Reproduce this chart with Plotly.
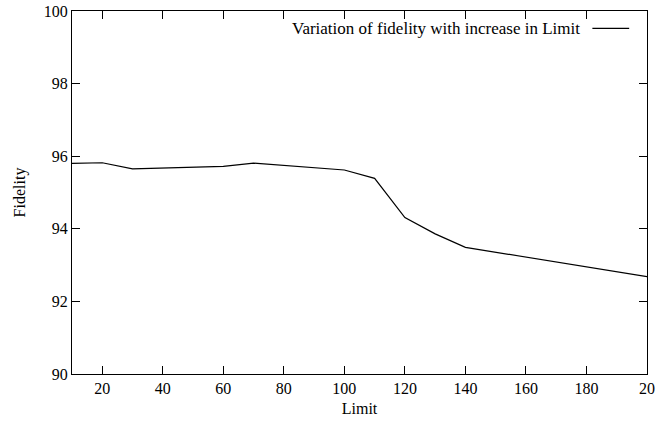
import plotly.graph_objects as go

# Fidelity measured at each Limit setting
limit = [10, 20, 30, 60, 70, 100, 110, 120, 130, 140, 200]
fidelity = [95.80, 95.82, 95.65, 95.72, 95.81, 95.62, 95.39, 94.31, 93.86, 93.49, 92.68]

x_ticks = [20, 40, 60, 80, 100, 120, 140, 160, 180, 200]
# the last label is cut off at the page edge, leaving only "20"
x_tick_labels = ["20", "40", "60", "80", "100", "120", "140", "160", "180", "20"]
y_ticks = [90, 92, 94, 96, 98, 100]

series_name = "Variation of fidelity with increase in Limit"
serif = "Liberation Serif"

fig = go.Figure()
fig.add_trace(go.Scatter(
    x=limit, y=fidelity, mode="lines", name=series_name,
    line=dict(color="black", width=1.2), showlegend=False,
))

axis_common = dict(
    showline=True, linecolor="black", linewidth=1, mirror="ticks",
    ticks="inside", ticklen=8, tickcolor="black", tickwidth=1,
    showgrid=False, zeroline=False, automargin=False,
    tickfont=dict(family=serif, size=16, color="black"),
)

fig.update_xaxes(range=[10, 200], tickvals=x_ticks, ticktext=x_tick_labels,
                 title=dict(text="Limit", font=dict(family=serif, size=16, color="black"), standoff=6),
                 **axis_common)
fig.update_yaxes(range=[90, 100], tickvals=y_ticks,
                 title=dict(text="Fidelity", font=dict(family=serif, size=16, color="black"), standoff=14),
                 **axis_common)

# gnuplot-style key: label on the left, line sample on the right
fig.add_annotation(x=0.887, y=0.952, xref="paper", yref="paper",
                   xanchor="right", yanchor="middle", showarrow=False,
                   text=series_name, font=dict(family=serif, size=17, color="black"))
fig.add_shape(type="line", xref="paper", yref="paper",
              x0=0.905, x1=0.969, y0=0.952, y1=0.952,
              line=dict(color="black", width=1.2))

fig.update_layout(
    width=670, height=425,
    margin=dict(l=72, r=23, t=11, b=51),
    paper_bgcolor="white", plot_bgcolor="white",
    font=dict(family=serif, color="black"),
)

fig.write_html("out.html")
